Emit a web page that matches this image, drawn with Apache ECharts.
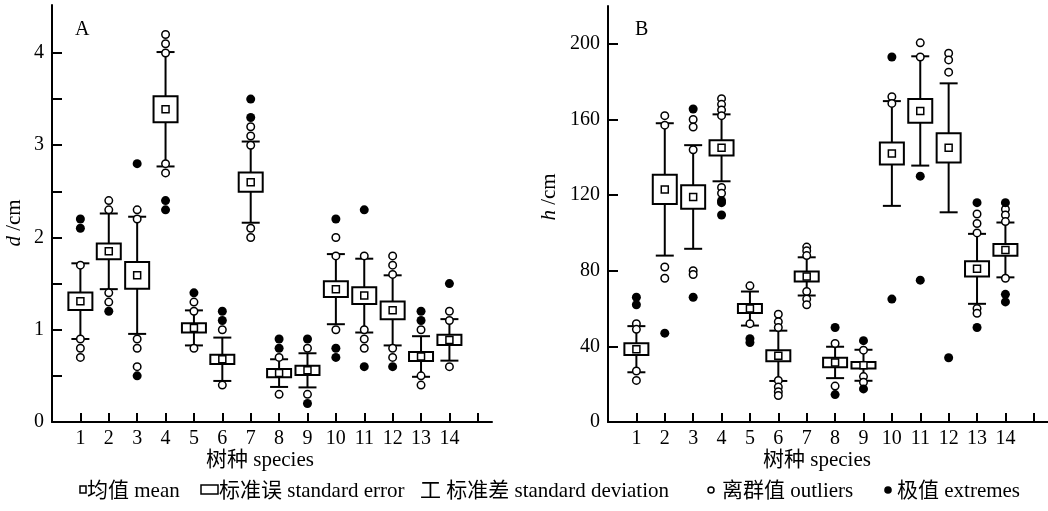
<!DOCTYPE html>
<html><head><meta charset="utf-8">
<script src="https://cdn.jsdelivr.net/npm/echarts@6/dist/echarts.min.js"></script>
<style>html,body{margin:0;padding:0;background:#fff}#c{width:1048px;height:511px}</style>
</head><body><div id="c"></div>
<script>
// ---- data ----
const species = [1,2,3,4,5,6,7,8,9,10,11,12,13,14];

// Panel A: diameter d (cm)
const meanD = [1.31,1.85,1.59,3.39,1.02,0.68,2.60,0.53,0.56,1.44,1.37,1.21,0.71,0.89];
const seD   = [0.095,0.085,0.145,0.14,0.05,0.05,0.105,0.045,0.05,0.085,0.09,0.095,0.05,0.055];
const sdD   = [0.41,0.41,0.635,0.62,0.19,0.235,0.44,0.15,0.185,0.38,0.40,0.38,0.22,0.225];
const outliersD = [
  [1.7,0.9,0.8,0.7],[2.4,2.3,1.4,1.3],[2.3,2.2,0.9,0.8,0.6],[4.2,4.1,4.0,2.8,2.7],
  [1.3,1.2,0.8],[1.0,0.4],[3.2,3.1,3.0,2.1,2.0],[0.7,0.3],[0.8,0.3],[2.0,1.8,1.0],
  [1.8,1.0,0.9,0.8],[1.8,1.7,1.6,0.8,0.7],[1.0,0.5,0.4],[1.2,1.1,0.6]
];
const extremesD = [
  [2.2,2.1],[1.2],[2.8,0.5],[2.4,2.3],[1.4],[1.2,1.1],[3.5,3.3],[0.9,0.8],[0.9,0.2],
  [2.2,0.8,0.7],[2.3,0.6],[0.6],[1.2,1.1],[1.5]
];

// Panel B: height h (cm)
const meanH = [38.5,123,119,145,60,35,77,31.5,30,142,164.5,145,81,91];
const seH   = [3.1,7.7,6.2,4,2.35,2.9,2.65,2.5,1.7,5.8,6.3,7.7,4,3.1];
const sdH   = [12.2,35,27.4,17.7,9,13.3,10.1,8.3,8.2,27.7,28.9,34.1,18.5,14.5];
const outliersH = [
  [52,49,27,22],[162,157,82,76],[160,156,144,80,78],[171,168,165,162,124,121],
  [72,52],[57,53,50,22,18.5,16,14],[92.5,90.5,88,69,65,62],[41.5,19],[38,24,21],
  [172,168.5],[200.5,193],[195,191.5,185],[110,105,100,60,57.5],[112.5,109.5,106,76]
];
const extremesH = [
  [66,62],[47],[165.5,66],[117,116,109.5],[44,42],[],[],[50,14.5],[43,17.5],
  [193,65],[130,75],[34],[116,50],[116,67.5,63.5]
];

// axis ticks / labels
const xTicks = [1,2,3,4,5,6,7,8,9,10,11,12,13,14,15];
const xLabels = [1,2,3,4,5,6,7,8,9,10,11,12,13,14];
const yTicksD = [0,0.5,1,1.5,2,2.5,3,3.5,4];
const yLabelsD = [0,1,2,3,4];
const yTicksH = [0,40,80,120,160,200];
const yLabelsH = [0,40,80,120,160,200];

// ---- chart ----
const FONT = "'Liberation Serif','Noto Sans CJK SC',serif";
const chart = echarts.init(document.getElementById('c'), null, {renderer:'canvas'});

function boxRender(params, api) {
  const x = api.value(0), m = api.value(1), se = api.value(2), sd = api.value(3);
  const c = api.coord([x, m]);
  const top = api.coord([x, m + sd]), bot = api.coord([x, m - sd]);
  const seT = api.coord([x, m + se]), seB = api.coord([x, m - se]);
  const bw = 24, cw = 18, ms = 7;
  const ls = {stroke:'#000', lineWidth:2};
  return {type:'group', children:[
    {type:'line', shape:{x1:c[0],y1:top[1],x2:c[0],y2:bot[1]}, style:ls},
    {type:'line', shape:{x1:c[0]-cw/2,y1:top[1],x2:c[0]+cw/2,y2:top[1]}, style:ls},
    {type:'line', shape:{x1:c[0]-cw/2,y1:bot[1],x2:c[0]+cw/2,y2:bot[1]}, style:ls},
    {type:'rect', shape:{x:c[0]-bw/2,y:seT[1],width:bw,height:seB[1]-seT[1]}, style:{fill:'#fff',stroke:'#000',lineWidth:2}},
    {type:'rect', shape:{x:c[0]-ms/2,y:c[1]-ms/2,width:ms,height:ms}, style:{fill:'#fff',stroke:'#000',lineWidth:1.5}}
  ]};
}

function xAxisOpt(gi) {
  return {
    type:'value', gridIndex:gi, min:0, max:15.5,
    axisLine:{show:true, onZero:false, lineStyle:{color:'#000', width:2}},
    axisTick:{show:true, inside:true, length:9, lineStyle:{color:'#000', width:2}, customValues:xTicks},
    axisLabel:{show:true, color:'#000', fontFamily:FONT, fontSize:20, margin:7, customValues:xLabels},
    splitLine:{show:false}
  };
}
function yAxisOpt(gi, max, ticks, labels) {
  return {
    type:'value', gridIndex:gi, min:0, max:max,
    axisLine:{show:true, onZero:false, lineStyle:{color:'#000', width:2}},
    axisTick:{show:true, inside:true, length:10, lineStyle:{color:'#000', width:2}, customValues:ticks},
    axisLabel:{show:true, color:'#000', fontFamily:FONT, fontSize:20, margin:8, customValues:labels},
    splitLine:{show:false}
  };
}

const boxDataD = species.map((s,i)=>[s, meanD[i], seD[i], sdD[i]]);
const boxDataH = species.map((s,i)=>[s, meanH[i], seH[i], sdH[i]]);
const pts = (arr)=>arr.flatMap((vals,i)=>vals.map(v=>[species[i], v]));

const outStyle = {color:'#fff', borderColor:'#000', borderWidth:1.5, opacity:1};
const extStyle = {color:'#000', borderColor:'#000', borderWidth:0, opacity:1};

const textStyle = (extra, size)=>Object.assign({fill:'#000', font:(size||21)+"px "+FONT}, extra);

const option = {
  backgroundColor:'#fff',
  animation:false,
  grid:[
    {left:52, right:556, top:5, bottom:89},
    {left:608, right:0, top:6, bottom:89}
  ],
  xAxis:[xAxisOpt(0), xAxisOpt(1)],
  yAxis:[yAxisOpt(0, 4.52, yTicksD, yLabelsD), yAxisOpt(1, 220, yTicksH, yLabelsH)],
  series:[
    {type:'custom', xAxisIndex:0, yAxisIndex:0, renderItem:boxRender, data:boxDataD, z:2},
    {type:'scatter', xAxisIndex:0, yAxisIndex:0, data:pts(outliersD), symbol:'circle', symbolSize:7.5, itemStyle:outStyle, z:3},
    {type:'scatter', xAxisIndex:0, yAxisIndex:0, data:pts(extremesD), symbol:'circle', symbolSize:9, itemStyle:extStyle, z:3},
    {type:'custom', xAxisIndex:1, yAxisIndex:1, renderItem:boxRender, data:boxDataH, z:2},
    {type:'scatter', xAxisIndex:1, yAxisIndex:1, data:pts(outliersH), symbol:'circle', symbolSize:7.5, itemStyle:outStyle, z:3},
    {type:'scatter', xAxisIndex:1, yAxisIndex:1, data:pts(extremesH), symbol:'circle', symbolSize:9, itemStyle:extStyle, z:3}
  ],
  graphic:[
    {type:'text', left:75, top:20, style:textStyle({text:'A'}, 20)},
    {type:'text', left:635, top:20, style:textStyle({text:'B'}, 20)},
    {type:'text', x:14, y:223, rotation:Math.PI/2,
      style:{text:'{i|d} /cm', fill:'#000', font:"21px "+FONT, align:'center', verticalAlign:'middle',
        rich:{i:{fontStyle:'italic', fontFamily:FONT, fontSize:21}}}},
    {type:'text', x:549, y:197, rotation:Math.PI/2,
      style:{text:'{i|h} /cm', fill:'#000', font:"21px "+FONT, align:'center', verticalAlign:'middle',
        rich:{i:{fontStyle:'italic', fontFamily:FONT, fontSize:21}}}},
    {type:'text', x:260, y:460, style:textStyle({text:'树种 species', align:'center', verticalAlign:'middle'})},
    {type:'text', x:817, y:460, style:textStyle({text:'树种 species', align:'center', verticalAlign:'middle'})},
    // legend
    {type:'rect', shape:{x:80, y:486, width:6, height:7}, style:{fill:'#fff', stroke:'#000', lineWidth:1.5}},
    {type:'text', x:87, y:491, style:textStyle({text:'均值 mean', verticalAlign:'middle'})},
    {type:'rect', shape:{x:201, y:485, width:17, height:9}, style:{fill:'#fff', stroke:'#000', lineWidth:1.5}},
    {type:'text', x:219, y:491, style:textStyle({text:'标准误 standard error', verticalAlign:'middle'})},
    {type:'text', x:420, y:491, style:textStyle({text:'工 标准差 standard deviation', verticalAlign:'middle'})},
    {type:'circle', shape:{cx:711, cy:490, r:3}, style:{fill:'#fff', stroke:'#000', lineWidth:1.5}},
    {type:'text', x:722, y:491, style:textStyle({text:'离群值 outliers', verticalAlign:'middle'})},
    {type:'circle', shape:{cx:888, cy:490, r:3.8}, style:{fill:'#000'}},
    {type:'text', x:897, y:491, style:textStyle({text:'极值 extremes', verticalAlign:'middle'})}
  ]
};
chart.setOption(option);
</script></body></html>
